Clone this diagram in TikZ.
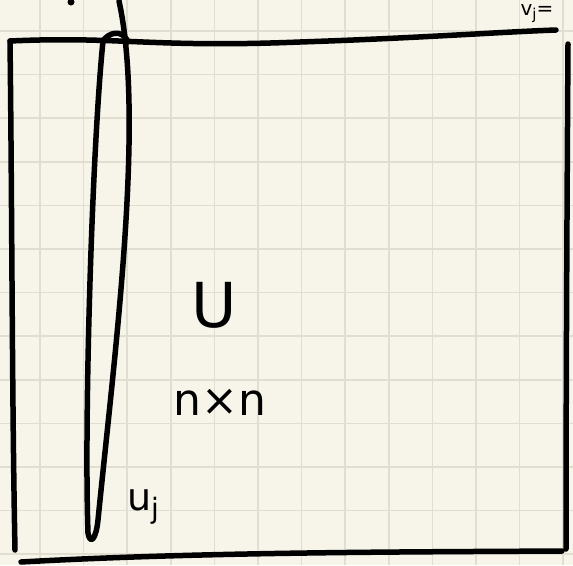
\documentclass[tikz,border=0pt]{standalone}
\usepackage{fontspec}
\setmainfont{DejaVu Sans}
\definecolor{paper}{HTML}{F7F5E9}
\definecolor{gridc}{HTML}{E0DDD1}
\begin{document}
\begin{tikzpicture}[x=1pt,y=-1pt,
  ink/.style={line width=5.5pt,line cap=round,line join=round,black},
  gridline/.style={gridc,line width=1.6pt},
  hand/.style={font=\fontsize{#1}{#1}\selectfont,inner sep=0pt,text=black}]
\useasboundingbox (0,0) rectangle (573,565);
\fill[paper] (0,0) rectangle (573,565);
\foreach \k in {0,...,12} {
  \draw[gridline] ({40+43.6*\k},0) -- ({40+43.6*\k},565);
  \draw[gridline] (0,{31+43.6*\k}) -- (573,{31+43.6*\k});
}
% outer box
\coordinate (tl) at (10,41);
\coordinate (tr) at (556,30);
\coordinate (rt) at (568,44);
\coordinate (rb) at (566,549);
\coordinate (bl) at (21,562);
\coordinate (br) at (562,551);
\coordinate (lb) at (15,550);
\draw[ink] (tl) .. controls (12,200) and (12,400) .. (lb);
\draw[ink] (tl) .. controls (120,36) and (150,48) .. (300,42) .. controls (420,38) and (500,32) .. (tr);
\draw[ink] (rt) .. controls (567,200) and (566,400) .. (rb);
\draw[ink] (bl) .. controls (200,552) and (400,552) .. (br);
% column loop
\coordinate (ltop) at (103,41);
\coordinate (lbot) at (88,533);
\coordinate (rtop) at (119,1);
\draw[ink] (ltop) .. controls (92,150) and (84,420) .. (lbot)
  .. controls (90,545) and (96,540) .. (98,520)
  .. controls (115,350) and (145,120) .. (rtop);
\draw[ink] (ltop) .. controls (108,33) and (122,28) .. (128,42);
\fill (71,2) circle (3.5pt);
% labels
\node[hand=62] (U) at (214,305) {U};
\node[hand=44] (nn) at (220,402) {n×n};
\node[hand=38] (uj) at (143,507) {u\raisebox{-8pt}{\fontsize{28}{28}\selectfont j}};
\node[hand=20] (vj) at (537,14) {v\raisebox{-4pt}{\fontsize{15}{15}\selectfont j}=};
\end{tikzpicture}
\end{document}
